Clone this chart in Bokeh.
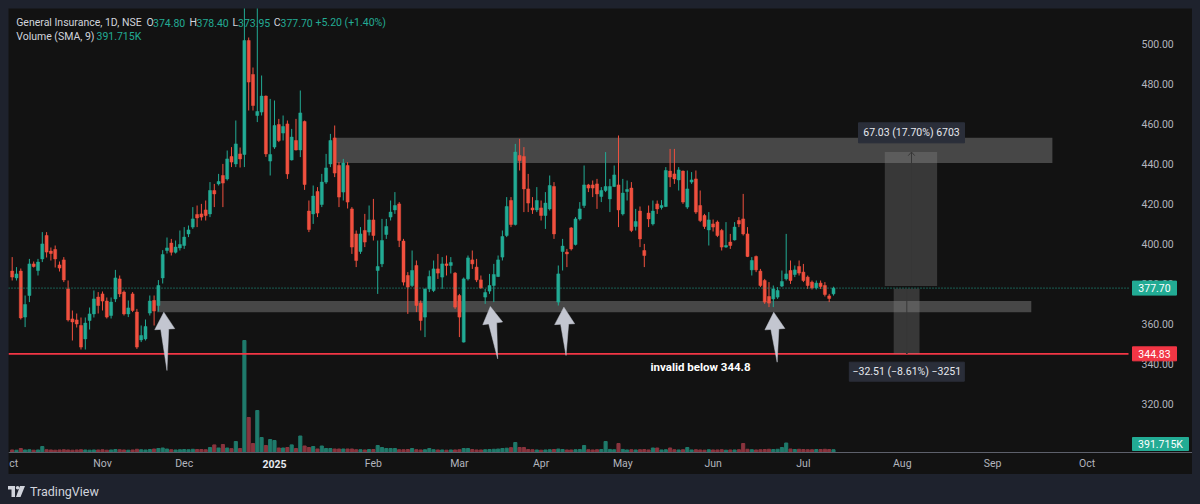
import math
import re
from bokeh.plotting import figure
from bokeh.models import Range1d, Span, BoxAnnotation, Label, ColumnDataSource, Div
from bokeh.layouts import column
from bokeh.core.properties import value
from bokeh.embed import file_html
from bokeh.resources import INLINE

# ---------------- data (bar index 0 = 1 Nov 2024) ----------------
first_index = -21
opens = [
    386.2, 382.8, 386.2, 363.2, 374.0, 389.8, 386.5, 392.3, 404.0, 396.2,
    397.0, 389.3, 391.8, 377.3, 362.3, 361.8, 359.0, 352.3, 361.5, 364.8,
    373.2, 374.8, 371.2, 364.0, 372.3, 382.3, 375.7, 364.8, 374.8, 365.7,
    351.8, 352.3, 365.2, 371.5, 369.0, 382.8, 396.5, 400.2, 395.6, 397.8,
    399.0, 404.8, 408.2, 414.5, 414.8, 416.8, 414.8, 426.5, 429.8, 434.0,
    432.3, 443.5, 439.8, 444.8, 444.5, 501.5, 484.5, 464.0, 465.7, 473.7,
    441.2, 448.2, 459.5, 455.2, 459.8, 441.8, 451.5, 446.8, 461.0, 416.2,
    414.8, 426.0, 419.5, 430.7, 439.8, 452.8, 439.0, 425.7, 439.0, 417.3,
    404.8, 396.0, 406.5, 405.7, 411.8, 386.5, 389.8, 404.5, 413.2, 416.8,
    419.8, 401.2, 384.0, 379.0, 389.0, 370.2, 363.2, 377.3, 376.5, 387.3,
    383.2, 389.8, 389.0, 385.2, 374.0, 350.7, 382.3, 391.8, 388.2, 381.8,
    373.2, 376.2, 379.0, 383.5, 393.2, 404.0, 421.5, 409.5, 444.0, 443.5,
    427.3, 417.8, 416.8, 417.8, 414.0, 417.3, 428.5, 370.7, 396.0, 395.7,
    407.8, 399.5, 412.3, 419.0, 429.3, 429.3, 429.8, 423.5, 426.5, 422.3,
    428.5, 429.3, 414.8, 426.0, 427.7, 408.5, 416.2, 396.5, 415.2, 409.8,
    419.8, 418.0, 418.5, 436.2, 434.8, 431.8, 436.2, 418.2, 430.7, 432.3,
    419.0, 414.0, 406.8, 409.8, 410.7, 406.5, 398.2, 400.7, 401.8, 411.5,
    412.3, 404.8, 386.8, 393.5, 386.2, 381.5, 373.5, 372.3, 373.2, 378.7,
    382.3, 386.5, 384.5, 388.5, 385.7, 383.2, 380.7, 377.8, 380.2, 379.0,
    373.8, 374.8,
]
highs = [
    393.2, 388.2, 387.5, 374.0, 392.3, 391.0, 392.3, 405.7, 405.7, 398.0,
    399.0, 391.0, 393.2, 381.5, 366.5, 365.0, 363.0, 363.0, 368.0, 376.5,
    375.7, 376.0, 373.0, 373.0, 386.8, 384.0, 376.5, 371.5, 375.7, 367.3,
    359.0, 362.0, 374.0, 374.0, 381.7, 396.7, 403.0, 402.3, 401.5, 406.5,
    408.2, 409.0, 418.2, 419.0, 419.8, 421.5, 430.7, 429.8, 434.8, 439.8,
    446.5, 448.2, 461.5, 448.0, 525.0, 503.0, 488.0, 522.0, 484.0, 474.0,
    472.3, 471.5, 462.3, 464.0, 461.5, 457.3, 462.3, 476.5, 461.5, 421.5,
    429.0, 428.2, 434.8, 444.8, 454.8, 459.0, 440.7, 442.3, 440.7, 418.2,
    406.5, 408.2, 414.8, 419.0, 422.3, 401.5, 412.3, 412.3, 421.5, 425.7,
    420.7, 402.3, 385.7, 396.5, 391.5, 371.5, 377.3, 386.5, 391.5, 394.8,
    393.2, 394.0, 393.2, 385.7, 374.8, 383.0, 394.0, 396.5, 392.3, 384.0,
    377.3, 384.8, 389.8, 394.0, 406.5, 423.2, 423.2, 449.8, 452.3, 448.2,
    434.8, 423.2, 428.2, 421.5, 425.7, 434.0, 430.7, 389.0, 402.3, 397.3,
    408.2, 413.2, 420.7, 439.0, 429.8, 431.5, 432.3, 428.2, 445.7, 432.3,
    439.0, 454.0, 432.3, 431.5, 430.7, 417.3, 418.5, 399.8, 419.0, 421.5,
    421.5, 421.7, 438.2, 447.3, 447.3, 438.2, 436.5, 436.5, 435.7, 436.5,
    426.5, 414.8, 415.7, 412.0, 411.5, 407.3, 410.7, 404.8, 410.7, 413.2,
    424.8, 408.2, 393.2, 394.0, 387.3, 382.3, 380.7, 379.0, 378.2, 386.5,
    404.8, 391.5, 389.0, 391.5, 389.8, 384.0, 381.5, 381.5, 381.5, 380.7,
    374.8, 378.4,
]
lows = [
    381.5, 381.5, 362.0, 358.2, 370.7, 388.0, 384.0, 390.7, 393.0, 391.5,
    388.0, 386.0, 380.7, 361.0, 351.5, 358.0, 347.0, 347.0, 357.0, 363.0,
    365.0, 366.5, 362.5, 362.5, 370.7, 373.2, 364.0, 363.2, 365.7, 347.3,
    350.7, 351.5, 364.0, 359.0, 366.0, 380.0, 395.0, 394.0, 395.0, 396.5,
    397.3, 403.2, 407.3, 408.2, 411.5, 411.5, 413.2, 418.2, 429.0, 418.2,
    431.5, 438.2, 438.2, 438.0, 438.2, 466.5, 466.5, 460.7, 464.0, 443.3,
    434.0, 447.3, 450.7, 451.5, 432.3, 441.5, 446.5, 443.2, 426.8, 405.7,
    409.8, 413.2, 418.2, 429.8, 438.2, 433.2, 418.2, 421.5, 417.5, 394.8,
    388.2, 394.8, 398.2, 404.0, 401.5, 374.8, 388.2, 402.3, 411.5, 414.8,
    398.2, 379.0, 364.8, 378.2, 365.7, 356.5, 353.2, 375.7, 375.7, 382.3,
    377.3, 384.0, 385.0, 367.3, 353.2, 350.5, 381.5, 387.3, 380.7, 377.3,
    369.8, 374.8, 370.7, 383.2, 391.5, 403.2, 408.2, 409.0, 436.5, 415.7,
    415.7, 414.8, 415.7, 411.5, 407.3, 416.5, 402.3, 369.0, 386.5, 388.2,
    396.5, 399.0, 411.5, 417.8, 425.7, 423.2, 417.3, 420.7, 425.7, 415.7,
    428.2, 408.2, 414.0, 421.5, 405.7, 406.5, 398.2, 388.2, 408.2, 409.0,
    414.8, 417.0, 418.2, 428.2, 429.8, 426.5, 419.8, 417.3, 429.8, 414.8,
    410.7, 407.3, 399.0, 406.0, 403.2, 396.5, 397.8, 397.3, 401.5, 408.2,
    404.0, 393.2, 384.0, 385.7, 378.2, 369.8, 368.2, 368.2, 372.3, 378.2,
    381.5, 379.8, 383.2, 384.0, 380.7, 377.3, 377.0, 377.0, 377.3, 373.5,
    370.7, 373.95,
]
closes = [
    383.2, 384.8, 362.8, 369.5, 389.8, 388.5, 390.7, 399.8, 395.7, 395.0,
    392.3, 387.7, 381.8, 361.8, 360.8, 359.8, 348.2, 360.2, 364.8, 372.3,
    369.0, 371.2, 363.2, 370.7, 382.8, 374.8, 364.8, 367.8, 366.5, 348.2,
    354.0, 358.5, 371.2, 366.2, 379.0, 394.5, 397.8, 395.6, 398.2, 399.5,
    403.2, 406.8, 412.3, 412.8, 413.2, 414.0, 426.5, 424.8, 431.0, 430.2,
    442.3, 440.7, 449.8, 442.3, 501.5, 480.7, 469.0, 466.0, 473.7, 444.8,
    444.5, 459.0, 451.5, 458.5, 434.8, 453.2, 446.8, 465.3, 429.5, 407.0,
    423.7, 415.2, 430.7, 437.8, 451.5, 435.2, 423.2, 440.2, 420.7, 398.2,
    391.5, 404.8, 400.7, 411.8, 404.0, 388.5, 401.5, 408.5, 415.7, 419.0,
    401.5, 380.7, 378.2, 386.5, 369.0, 361.5, 377.3, 383.5, 387.3, 385.2,
    389.8, 389.0, 390.5, 368.2, 363.2, 382.3, 392.8, 389.8, 381.8, 377.8,
    375.5, 379.0, 384.5, 391.8, 403.5, 418.5, 409.5, 445.7, 441.5, 427.3,
    420.2, 416.8, 421.5, 414.0, 420.2, 429.0, 404.8, 384.8, 398.7, 394.8,
    397.3, 412.3, 417.3, 429.3, 427.7, 427.7, 424.8, 426.5, 428.5, 428.5,
    434.3, 416.8, 425.2, 427.0, 406.5, 411.0, 402.3, 394.0, 412.3, 416.2,
    417.3, 419.0, 436.5, 433.2, 432.3, 436.8, 420.7, 427.3, 431.8, 415.7,
    411.5, 408.5, 411.8, 408.2, 404.0, 398.2, 399.0, 399.0, 408.2, 409.8,
    404.8, 393.5, 391.5, 386.8, 379.0, 370.7, 370.2, 377.3, 376.5, 381.0,
    384.8, 381.5, 386.8, 385.2, 381.5, 379.0, 377.8, 380.2, 378.5, 374.5,
    372.5, 377.7,
]
volumes_k = [
    330, 300, 520, 330, 360, 300, 330, 780, 360, 330,
    300, 330, 360, 330, 300, 330, 360, 330, 300, 330,
    330, 360, 300, 330, 390, 360, 330, 300, 330, 420,
    360, 330, 390, 450, 520, 585, 450, 360, 330, 360,
    390, 360, 420, 390, 390, 360, 650, 990, 585, 1040,
    585, 500, 1430, 520, 14560, 4550, 1170, 5460, 1950, 910,
    1690, 1560, 585, 585, 650, 990, 520, 2145, 845, 650,
    780, 455, 845, 520, 520, 455, 455, 455, 455, 455,
    360, 360, 330, 390, 390, 910, 650, 520, 520, 520,
    360, 360, 390, 520, 360, 330, 360, 520, 360, 330,
    330, 300, 330, 330, 360, 520, 520, 390, 330, 330,
    360, 390, 420, 450, 520, 560, 630, 1300, 650, 650,
    390, 360, 330, 300, 330, 360, 390, 450, 390, 330,
    330, 360, 390, 910, 360, 330, 360, 390, 1430, 400,
    360, 1170, 400, 330, 360, 330, 360, 390, 330, 585,
    585, 330, 360, 585, 360, 330, 360, 650, 330, 360,
    330, 300, 360, 330, 330, 360, 300, 330, 330, 360,
    1170, 420, 360, 330, 360, 390, 420, 390, 420, 650,
    1235, 450, 390, 420, 390, 360, 360, 390, 390, 420,
    390, 360,
]
month_ticks = [0, 19, 40, 63, 83, 102, 121, 142, 163, 186, 207, 229]
month_labels = ["Nov", "Dec", "2025", "Feb", "Mar", "Apr", "May", "Jun", "Jul", "Aug", "Sep", "Oct"]
price_ticks = [320, 340, 360, 380, 400, 420, 440, 460, 480, 500]

last_close = 377.70
invalid_level = 344.83
resistance_zone = (440.25, 452.85)
support_zone = (365.65, 371.25)
target_move = (378.70, 445.73)
stop_move = (377.34, 344.83)

# ---------------- style / geometry ----------------
UP = "#22ab94"
DOWN = "#f0503f"
PANEL = "#121212"
CHROME = "#1e222d"
AXIS_TXT = "#b2b5be"
FONT = "Roboto"

PX_BAR = 4.3      # pixels per bar
PX_UNIT = 2.0     # pixels per price unit
FIG_W, FIG_H = 1184, 466
X0 = -21.86
Y0 = 284.5
VOL_PER_PX = 130  # thousand shares per pixel

def xd(px):   # page pixel -> bar coordinate
    return X0 + (px - 8) / PX_BAR

def yd(py):   # page pixel -> price coordinate
    return Y0 + (8 + FIG_H - py) / PX_UNIT

idx = list(range(first_index, first_index + len(closes)))
colors = [UP if c >= o else DOWN for o, c in zip(opens, closes)]
vcolors = ["#1f7a6b" if c >= o else "#8a343e" for o, c in zip(opens, closes)]
body_top = [max(o, c) for o, c in zip(opens, closes)]
body_bot = [min(o, c) if abs(o - c) >= 0.5 else max(o, c) - 0.5 for o, c in zip(opens, closes)]

src = ColumnDataSource(dict(x=idx, o=opens, h=highs, l=lows, c=closes, top=body_top, bot=body_bot,
                            col=colors, vcol=vcolors, vol=volumes_k))

p = figure(width=FIG_W, height=FIG_H, x_range=Range1d(X0, X0 + FIG_W / PX_BAR),
           y_range=Range1d(Y0, Y0 + FIG_H / PX_UNIT), x_axis_location=None, y_axis_location=None,
           output_backend="svg", toolbar_location=None,
           min_border_left=0, min_border_top=0, min_border_right=0, min_border_bottom=0,
           background_fill_color=PANEL, border_fill_color=PANEL, outline_line_color=None)
p.margin = (8, 8, 0, 8)
p.grid.visible = False
vol_base_px = 452 - (8 + FIG_H)   # volume baseline sits 22px above frame bottom
p.extra_y_ranges = {"vol": Range1d(vol_base_px * VOL_PER_PX, (vol_base_px + FIG_H) * VOL_PER_PX)}

# zones
p.add_layout(BoxAnnotation(left=53.95, right=220.9, bottom=resistance_zone[0], top=resistance_zone[1],
                           fill_color="#8a8a8a", fill_alpha=0.45, line_color=None, level="underlay"))
p.add_layout(BoxAnnotation(left=12.7, right=216.0, bottom=support_zone[0], top=support_zone[1],
                           fill_color="#8a8a8a", fill_alpha=0.45, line_color=None, level="underlay"))

# volume
p.vbar(x="x", top="vol", bottom=0, width=0.72, color="vcol", source=src, y_range_name="vol")

# candles
p.segment(x0="x", y0="h", x1="x", y1="l", color="col", line_width=1, source=src)
p.vbar(x="x", top="top", bottom="bot", width=0.7, fill_color="col", line_color="col", line_width=0.5, source=src)

# pane / scale separator at the bottom
p.add_layout(Span(location=yd(452), dimension="width", line_color="#5d606b", line_width=1))

# levels
x_left, x_scale = X0, xd(1128)
p.segment(x0=[x_left], y0=[last_close], x1=[x_scale], y1=[last_close], line_color=UP, line_dash="1 2", line_width=1)
p.segment(x0=[x_left], y0=[invalid_level], x1=[x_scale], y1=[invalid_level], line_color="#f23645", line_width=1.6)

# price range measurements
p.add_layout(BoxAnnotation(left=181.93, right=194.1, bottom=target_move[0], top=target_move[1],
                           fill_color="#8a8a8a", fill_alpha=0.32, line_color=None))
p.add_layout(BoxAnnotation(left=184.0, right=190.0, bottom=stop_move[1], top=stop_move[0],
                           fill_color="#8a8a8a", fill_alpha=0.32, line_color=None))
mx1, mx2 = 188.14, 187.05
p.segment(x0=[mx1, mx1 - 0.75, mx1 + 0.75], y0=[target_move[0], target_move[1] - 1.8, target_move[1] - 1.8],
          x1=[mx1, mx1, mx1], y1=[target_move[1], target_move[1], target_move[1]], line_color="#101010", line_width=1)
p.segment(x0=[mx2, mx2 - 0.75, mx2 + 0.75], y0=[stop_move[0], stop_move[1] + 1.8, stop_move[1] + 1.8],
          x1=[mx2, mx2, mx2], y1=[stop_move[1], stop_move[1], stop_move[1]], line_color="#101010", line_width=1)

# arrows
def arrow_poly(tip, tail, head_len=17, head_half=10, shaft_half=4):
    tx, ty = tip[0] * PX_BAR, tip[1] * PX_UNIT
    bx, by = tail[0] * PX_BAR, tail[1] * PX_UNIT
    dx, dy = tx - bx, ty - by
    L = math.hypot(dx, dy)
    ux, uy = dx / L, dy / L
    nx, ny = -uy, ux
    hx, hy = tx - ux * head_len, ty - uy * head_len
    pts = [(tx, ty), (hx + nx * head_half, hy + ny * head_half), (hx + nx * shaft_half, hy + ny * shaft_half),
           (bx, by), (hx - nx * shaft_half, hy - ny * shaft_half), (hx - nx * head_half, hy - ny * head_half)]
    return [q[0] / PX_BAR for q in pts], [q[1] / PX_UNIT for q in pts]

arrow_tips = [(14.26, 365.65), (90.2, 368.5), (107.3, 368.15), (156.1, 365.65)]
arrow_tails = [(15.0, 336.5), (91.9, 342.35), (107.8, 344.0), (156.9, 340.65)]
axs, ays = [], []
for tip, tail in zip(arrow_tips, arrow_tails):
    a, b = arrow_poly(tip, tail)
    axs.append(a)
    ays.append(b)
p.patches(axs, ays, fill_color="#c3c6d0", line_color="#c3c6d0", line_width=0.5)

# price scale (right) and time scale (bottom) labels
p.text(x=[xd(1141)] * len(price_ticks), y=price_ticks, text=["%.2f" % v for v in price_ticks],
       text_color=AXIS_TXT, text_font=value(FONT), text_font_size="10.5px",
       text_align="left", text_baseline="middle")
tick_styles = ["bold" if lab == "2025" else "normal" for lab in month_labels]
tick_colors = ["#e6e8ee" if lab == "2025" else AXIS_TXT for lab in month_labels]
p.text(x=month_ticks, y=[yd(463)] * len(month_ticks), text=month_labels,
       text_color=tick_colors, text_font_style=tick_styles, text_font=value(FONT),
       text_font_size="10.5px", text_align="center", text_baseline="middle")
p.text(x=[xd(8.8)], y=[yd(463)], text=["ct"], text_color=AXIS_TXT, text_font=value(FONT),
       text_font_size="10.5px", text_align="left", text_baseline="middle")

# boxed tags: (x centre, y centre, width px, height px, fill, text)
tag_x = [xd(1154), xd(1154), xd(1160), mx1, mx2]
tag_y = [last_close, invalid_level, yd(443.5), yd(132.3), yd(371.2)]
tag_w = [44, 44, 56, 106, 115]
tag_h = [14, 14, 13, 20, 19]
tag_fill = [UP, "#f23645", UP, "#2a2e39", "#2a2e39"]
tag_text = ["377.70", "344.83", "391.715K", "67.03 (17.70%) 6703", "\u221232.51 (\u22128.61%) \u22123251"]
tag_tcol = ["#ffffff", "#ffffff", "#ffffff", "#e6e8ee", "#e6e8ee"]
p.rect(x=tag_x, y=tag_y, width=tag_w, height=tag_h, width_units="screen", height_units="screen",
       fill_color=tag_fill, line_color=tag_fill)
p.text(x=tag_x, y=tag_y, text=tag_text, text_color=tag_tcol, text_font=value(FONT), text_font_size="10.5px",
       text_align="center", text_baseline="middle")

def lab(x, y, text, color, size="10.5px", style="normal"):
    p.add_layout(Label(x=x, y=y, text=text, text_color=color, text_font=FONT, text_font_size=size,
                       text_font_style=style, text_align="left", text_baseline="middle", level="overlay"))

# header
y1, y2 = yd(22.3), yd(36)
lab(xd(15.7), y1, "General Insurance, 1D, NSE", "#d1d4dc")
for px, t, c in [(146, "O", "#d1d4dc"), (152.5, "374.80", UP), (189, "H", "#d1d4dc"), (196, "378.40", UP),
                 (232, "L", "#d1d4dc"), (237.5, "373.95", UP), (273.3, "C", "#d1d4dc"), (280, "377.70", UP),
                 (315, "+5.20 (+1.40%)", UP)]:
    lab(xd(px), y1, t, c)
lab(xd(15.7), y2, "Volume (SMA, 9)", "#d1d4dc")
lab(xd(96), y2, "391.715K", UP)

# annotation text
lab(xd(650), yd(366), "invalid below 344.8", "#ffffff", size="11.5px", style="bold")

logo = ('<svg width="17" height="11" viewBox="0 0 17 11" style="margin-right:5px">'
        '<rect x="0" y="0" width="7" height="3.5" fill="#d1d4dc"/>'
        '<rect x="3.5" y="0" width="3.5" height="11" fill="#d1d4dc"/>'
        '<circle cx="9.6" cy="1.8" r="1.8" fill="#d1d4dc"/>'
        '<polygon points="12,0 17,0 12.5,11 8,11" fill="#d1d4dc"/></svg>')
footer = Div(text=('<div style="display:flex;align-items:center;color:#d1d4dc;font-family:Roboto;'
                   'font-size:12.5px;padding-top:9px;">' + logo + 'TradingView</div>'),
             width=300, height=22, margin=(0, 0, 0, 8))

layout = column(p, footer, spacing=0, width=1200, height=504, styles={"background-color": CHROME})
html = file_html(layout, INLINE)
html = re.sub(r"<body([^>]*)>", '<body\\1 style="background-color:%s;">' % CHROME, html, count=1)
open("out.html", "w").write(html)
